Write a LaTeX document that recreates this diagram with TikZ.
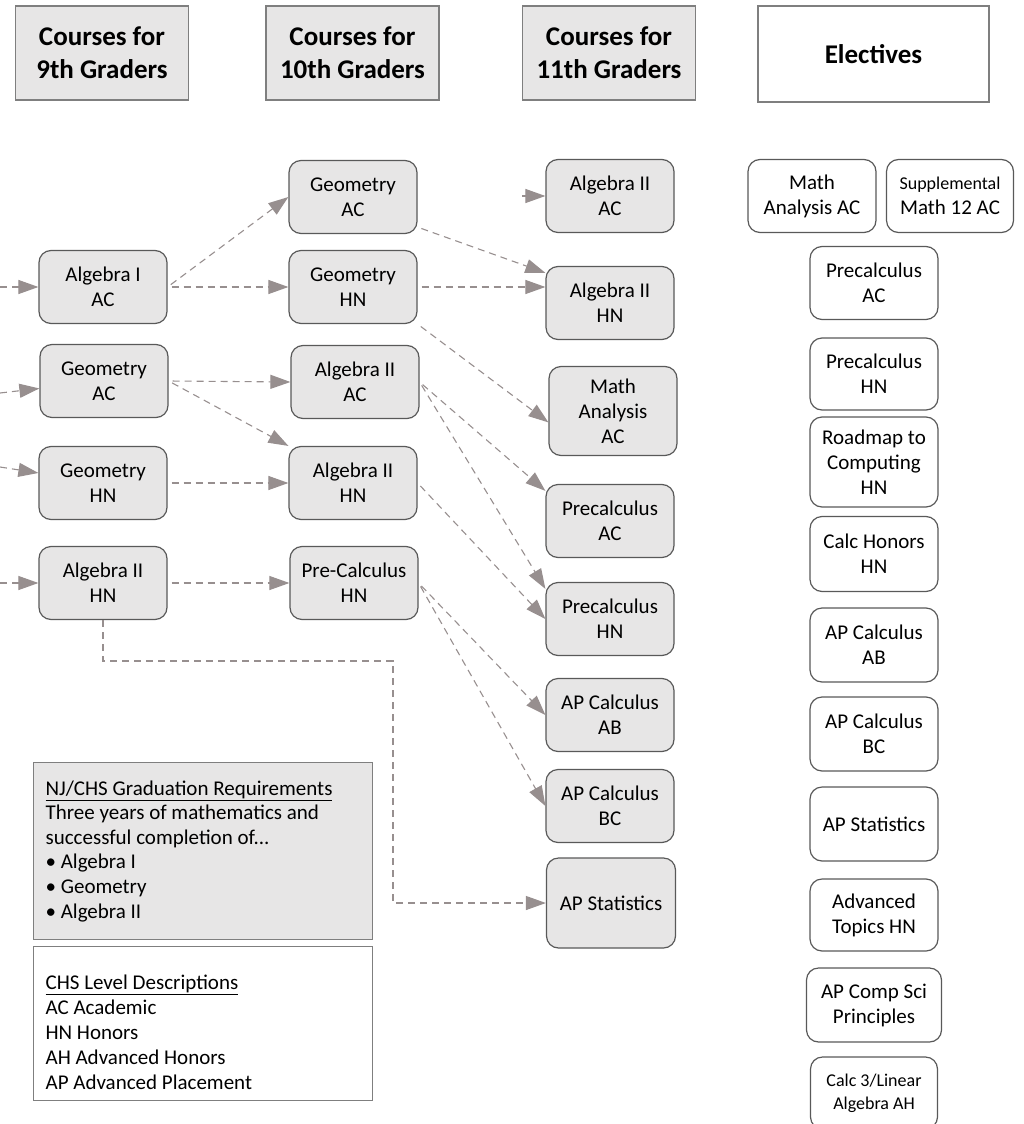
\documentclass[tikz,border=0pt]{standalone}
\usepackage{fontspec}
\setmainfont{Carlito}
\usepackage{tikz}
\usetikzlibrary{arrows.meta, calc, positioning}
\usepackage{xcolor}
\definecolor{boxfill}{HTML}{E7E6E6}
\definecolor{boxline}{HTML}{595959}
\definecolor{headline}{HTML}{7F7F7F}
\definecolor{flowgray}{HTML}{978F8F}

\tikzset{
  course/.style={draw=boxline, fill=boxfill, rounded corners=12pt, line width=1.2pt,
    minimum width=128pt, minimum height=73pt, inner sep=2pt, align=center,
    font=\fontsize{21}{25}\selectfont},
  elective/.style={course, fill=white},
  header/.style={draw=headline, fill=boxfill, line width=1.2pt, align=center,
    minimum width=173pt, minimum height=94pt, font=\bfseries\fontsize{27}{33}\selectfont},
  legend/.style={draw=headline, line width=1.2pt, anchor=north west, align=flush left,
    text width=315pt, inner xsep=12pt, minimum width=339pt,
    font=\fontsize{21}{24.6}\selectfont},
  flow/.style={draw=flowgray, line width=1.1pt, dash pattern=on 7pt off 5pt,
    shorten <=4pt, -{Triangle[length=20pt,width=14pt]}},
}

\begin{document}
\begin{tikzpicture}[x=1pt, y=-1pt]
\useasboundingbox (0,0) rectangle (1023,1124);

\node[header] (h9) at (102,53) {Courses for\\9th Graders};
\node[header] (h10) at (352.5,53) {Courses for\\10th Graders};
\node[header] (h11) at (609,53) {Courses for\\11th Graders};
\node[header, fill=white, minimum width=231pt, minimum height=96pt] (helect) at (873.5,54) {Electives};

% 9th grade
\node[course] (a1ac) at (103,287) {Algebra I\\AC};
\node[course] (g9ac) at (104,381) {Geometry\\AC};
\node[course] (g9hn) at (103,483) {Geometry\\HN};
\node[course] (a2hn9) at (103,583) {Algebra II\\HN};

% 10th grade
\node[course] (g10ac) at (353,197) {Geometry\\AC};
\node[course] (g10hn) at (353,287) {Geometry\\HN};
\node[course] (a2ac10) at (355,382) {Algebra II\\AC};
\node[course] (a2hn10) at (353,483) {Algebra II\\HN};
\node[course] (pc10) at (354,583) {Pre-Calculus\\HN};

% 11th grade
\node[course] (a2ac11) at (610,196) {Algebra II\\AC};
\node[course] (a2hn11) at (610,303) {Algebra II\\HN};
\node[course, minimum height=89pt] (ma11) at (613,411) {Math\\Analysis\\AC};
\node[course] (pcac11) at (610,521) {Precalculus\\AC};
\node[course] (pchn11) at (610,619) {Precalculus\\HN};
\node[course] (apab11) at (610,715) {AP Calculus\\AB};
\node[course] (apbc11) at (610,806) {AP Calculus\\BC};
\node[course, minimum width=129pt, minimum height=90pt] (apst11) at (611,903) {AP Statistics};

% electives
\node[elective] (emaac) at (812,196) {Math\\Analysis AC};
\node[elective, minimum width=127pt] (esupp) at (950,196) {{\fontsize{18}{21}\selectfont Supplemental}\\Math 12 AC};
\node[elective] (epcac) at (874,283) {Precalculus\\AC};
\node[elective, minimum height=72pt] (epchn) at (874,374) {Precalculus\\HN};
\node[elective, minimum height=90pt] (eroad) at (874,462) {Roadmap to\\Computing\\HN};
\node[elective, minimum height=75pt] (ecalch) at (874,554) {Calc Honors\\HN};
\node[elective, minimum height=74pt] (eapab) at (874,645) {AP Calculus\\AB};
\node[elective, minimum height=74pt] (eapbc) at (874,734) {AP Calculus\\BC};
\node[elective, minimum height=74pt] (eapst) at (874,824) {AP Statistics};
\node[elective, minimum height=72pt] (eadv) at (874,915) {Advanced\\Topics HN};
\node[elective, minimum width=135pt, minimum height=74pt] (ecomp) at (874,1005) {AP Comp Sci\\Principles};
\node[elective, minimum width=127pt, minimum height=72pt, font=\fontsize{18}{23}\selectfont] (ecalc3) at (874,1093) {Calc 3/Linear\\Algebra AH};

% legend
\node[legend, fill=boxfill, minimum height=177pt] (greq) at (33,762)
  {\underline{NJ/CHS Graduation Requirements}\\Three years of mathematics and\\successful completion of...\\•~Algebra I\\•~Geometry\\•~Algebra II};
\node[legend, fill=white, minimum height=154pt, font=\fontsize{21}{25}\selectfont] (levels) at (33,946)
  {\rule{0pt}{31pt}\underline{CHS Level Descriptions}\\AC Academic\\HN Honors\\AH Advanced Honors\\AP Advanced Placement};

% arrows
\coordinate (in1) at (0,287);
\coordinate (in2) at (0,393);
\coordinate (in3) at (0,467);
\coordinate (in4) at (0,583);
\coordinate (stub) at (522,196);
\coordinate (bend) at (393,661);

\draw[flow, shorten <=0pt] (in1) -- (a1ac);
\draw[flow, shorten <=0pt] (in2) -- (g9ac);
\draw[flow, shorten <=0pt] (in3) -- (g9hn);
\draw[flow, shorten <=0pt] (in4) -- (a2hn9);
\draw[flow, shorten <=0pt] (stub) -- (a2ac11.west);

\draw[flow] (a1ac.east) -- (g10ac.west);
\draw[flow] (a1ac.east) -- (g10hn.west);
\draw[flow] (g9ac.east) -- (a2ac10.west);
\draw[flow] (g9ac.east) -- (a2hn10.north west);
\draw[flow] (g9hn.east) -- (a2hn10.west);
\draw[flow] (a2hn9.east) -- (pc10.west);
\draw[flow, shorten <=0pt] (a2hn9.south) |- (bend) |- (apst11.west);

\draw[flow] (g10ac.-25) -- (a2hn11.155);
\draw[flow] (g10hn.east) -- (g10hn.east -| a2hn11.west);
\draw[flow] (g10hn.south east) -- (ma11.190);
\draw[flow] (a2ac10.east) -- (pcac11.155);
\draw[flow] (a2ac10.east) -- (pchn11.155);
\draw[flow] (a2hn10.east) -- (pchn11.west);
\draw[flow] (pc10.east) -- (apab11.west);
\draw[flow] (pc10.east) -- (apbc11.west);
\end{tikzpicture}
\end{document}
